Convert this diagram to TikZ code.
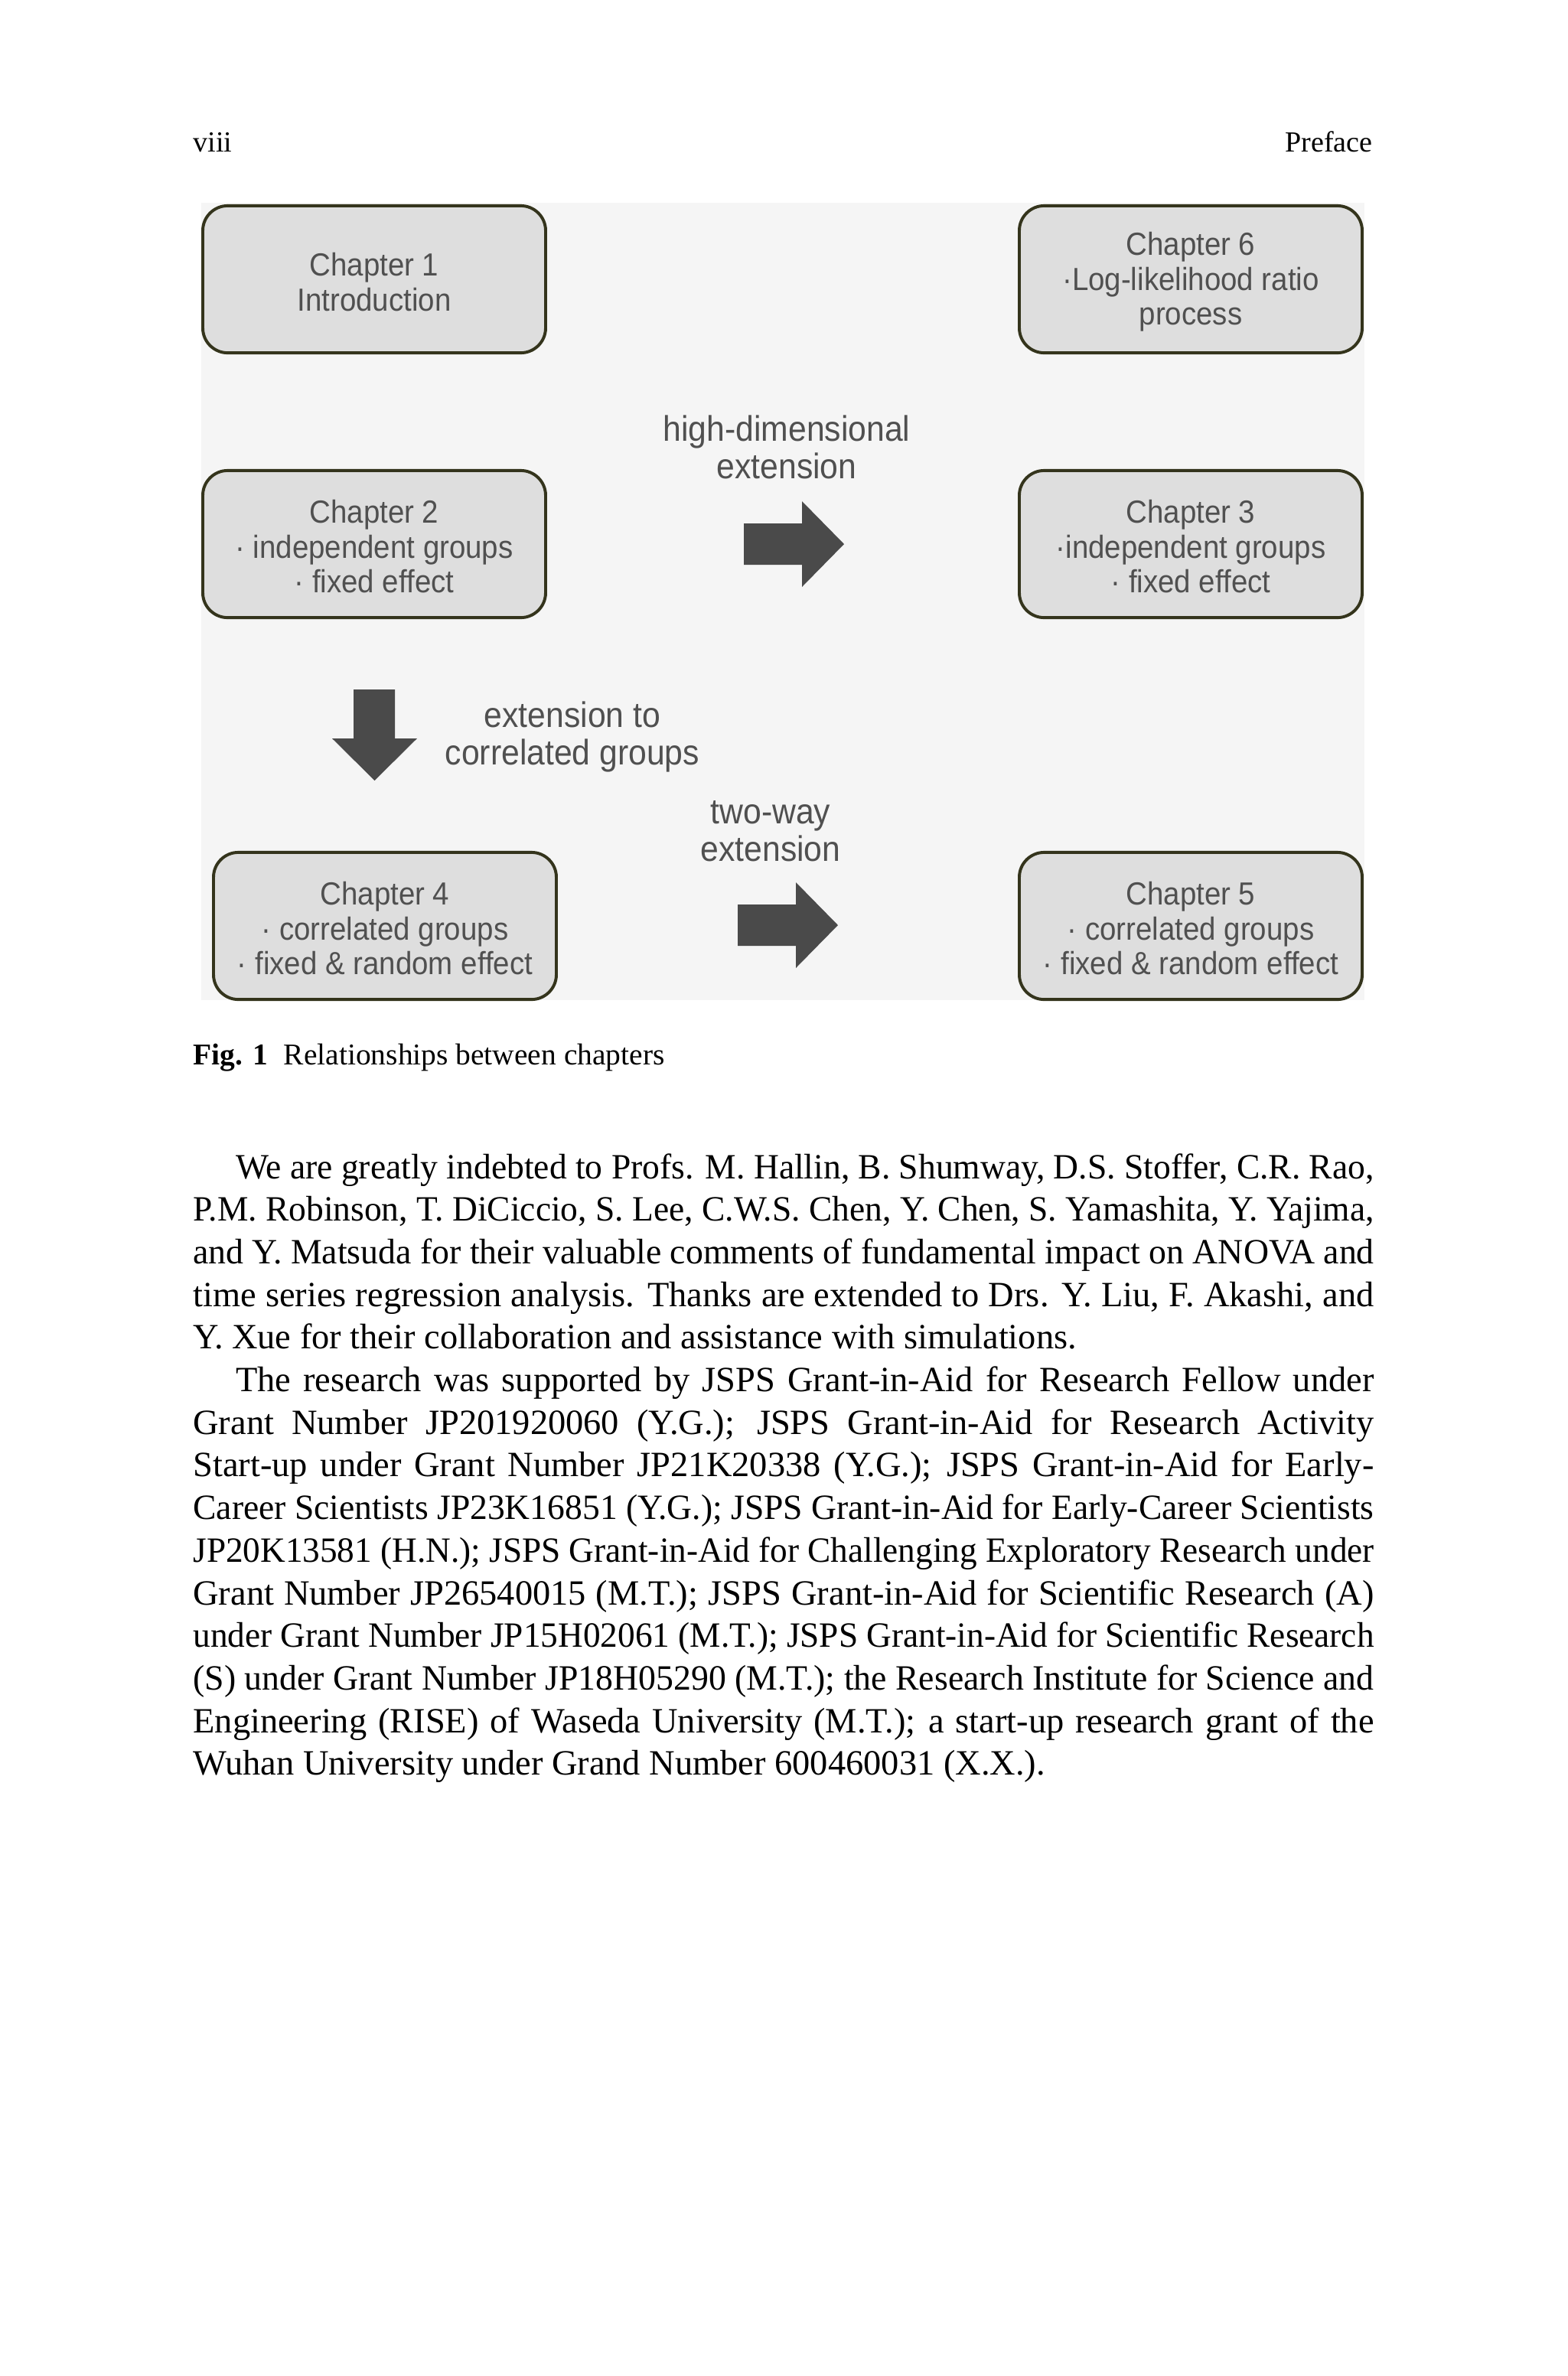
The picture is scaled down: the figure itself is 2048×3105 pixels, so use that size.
\documentclass[tikz,border=0pt]{standalone}
\usepackage{fontspec}
\setmainfont{Liberation Serif}
\newfontfamily\diagfont[FakeStretch=0.92]{Liberation Sans}
\usepackage{graphicx}
\definecolor{bgc}{HTML}{F5F5F5}
\definecolor{boxfill}{HTML}{DEDEDE}
\definecolor{boxline}{HTML}{34341C}
\definecolor{dtext}{HTML}{505050}
\definecolor{arrowc}{HTML}{4A4A4A}
\newlength\natw
\newcommand\jline[2]{\settowidth\natw{#2}\ifdim\natw>#1\relax\resizebox{#1}{\height}{#2}\else\makebox[#1][s]{#2}\fi}
\newcommand\tstrut{\rule{0pt}{8pt}}
\tikzset{
  chbox/.style={draw=boxline, line width=0.85pt, fill=boxfill, rounded corners=7pt,
    minimum width=96.5pt, minimum height=41.4pt, inner sep=0pt, align=center,
    text=dtext, font=\diagfont\fontsize{9}{9.8}\selectfont},
  lbl/.style={inner sep=0pt, align=center, text=dtext,
    font=\diagfont\fontsize{10}{10.6}\selectfont},
  bodyline/.style={inner sep=0pt, anchor=base west, font=\fontsize{10}{12}\selectfont},
  smalltext/.style={inner sep=0pt, anchor=base west, font=\fontsize{8.5}{10}\selectfont},
  blockarrow/.style={fill=arrowc}
}
\begin{document}
\begin{tikzpicture}[x=0.2154pt,y=-0.2154pt]
\useasboundingbox (0,0) rectangle (2048,3105);
\fill[white] (0,0) rectangle (2048,3105);
% running head
\node[inner sep=0pt, anchor=base west, font=\fontsize{8.2}{10}\selectfont] (pagenum) at (251.5,198) {viii};
\node[inner sep=0pt, anchor=base east, font=\fontsize{8.2}{10}\selectfont] (runhead) at (1794.5,198) {Preface};
% figure background
\fill[bgc] (263,265) rectangle (1783,1307);
% chapter boxes
\node[chbox] (c1) at (489,365) {\tstrut Chapter 1\\Introduction};
\node[chbox] (c6) at (1556,365) {\tstrut Chapter 6\\·Log-likelihood ratio\\process};
\node[chbox] (c2) at (489,711) {\tstrut Chapter 2\\· independent groups\\· fixed effect};
\node[chbox] (c3) at (1556,711) {\tstrut Chapter 3\\·independent groups\\· fixed effect};
\node[chbox] (c4) at (503,1210) {\tstrut Chapter 4\\· correlated groups\\· fixed \& random effect};
\node[chbox] (c5) at (1556,1210) {\tstrut Chapter 5\\· correlated groups\\· fixed \& random effect};
% labels
\node[lbl] (lhd) at (1028,584) {high-dimensional\\extension};
\node[lbl] (lec) at (748,963) {extension to\\correlated groups};
\node[lbl] (ltw) at (1007,1086) {two-way\\extension};
% block arrows
\fill[blockarrow] (972,684) -- (1048,684) -- (1048,655) -- (1103,711) -- (1048,767) -- (1048,738) -- (972,738) -- cycle;
\fill[blockarrow] (964,1182) -- (1040,1182) -- (1040,1153) -- (1095,1209) -- (1040,1265) -- (1040,1236) -- (964,1236) -- cycle;
\fill[blockarrow] (462,901) -- (516,901) -- (516,965) -- (545,965) -- (489.5,1020) -- (434,965) -- (462,965) -- cycle;
% caption
\node[smalltext] (figlab) at (251.5,1391) {\textbf{Fig. 1}};
\node[smalltext] (figcap) at (370,1391) {Relationships between chapters};
% body text
\node[bodyline] (b1) at (307.2,1540) {\jline{320.4pt}{We are greatly indebted to Profs. M. Hallin, B. Shumway, D.S. Stoffer, C.R. Rao,}};
\node[bodyline] (b2) at (251.5,1595.7) {\jline{332.4pt}{P.M. Robinson, T. DiCiccio, S. Lee, C.W.S. Chen, Y. Chen, S. Yamashita, Y. Yajima,}};
\node[bodyline] (b3) at (251.5,1651.4) {\jline{332.4pt}{and Y. Matsuda for their valuable comments of fundamental impact on ANOVA and}};
\node[bodyline] (b4) at (251.5,1707.1) {\jline{332.4pt}{time series regression analysis. Thanks are extended to Drs. Y. Liu, F. Akashi, and}};
\node[bodyline] (b5) at (251.5,1762.8) {Y. Xue for their collaboration and assistance with simulations.};
\node[bodyline] (b6) at (307.2,1818.5) {\jline{320.4pt}{The research was supported by JSPS Grant-in-Aid for Research Fellow under}};
\node[bodyline] (b7) at (251.5,1874.2) {\jline{332.4pt}{Grant Number JP201920060 (Y.G.); JSPS Grant-in-Aid for Research Activity}};
\node[bodyline] (b8) at (251.5,1929.9) {\jline{332.4pt}{Start-up under Grant Number JP21K20338 (Y.G.); JSPS Grant-in-Aid for Early-}};
\node[bodyline] (b9) at (251.5,1985.6) {\jline{332.4pt}{Career Scientists JP23K16851 (Y.G.); JSPS Grant-in-Aid for Early-Career Scientists}};
\node[bodyline] (b10) at (251.5,2041.3) {\jline{332.4pt}{JP20K13581 (H.N.); JSPS Grant-in-Aid for Challenging Exploratory Research under}};
\node[bodyline] (b11) at (251.5,2097.0) {\jline{332.4pt}{Grant Number JP26540015 (M.T.); JSPS Grant-in-Aid for Scientific Research (A)}};
\node[bodyline] (b12) at (251.5,2152.7) {\jline{332.4pt}{under Grant Number JP15H02061 (M.T.); JSPS Grant-in-Aid for Scientific Research}};
\node[bodyline] (b13) at (251.5,2208.4) {\jline{332.4pt}{(S) under Grant Number JP18H05290 (M.T.); the Research Institute for Science and}};
\node[bodyline] (b14) at (251.5,2264.1) {\jline{332.4pt}{Engineering (RISE) of Waseda University (M.T.); a start-up research grant of the}};
\node[bodyline] (b15) at (251.5,2319.8) {Wuhan University under Grand Number 600460031 (X.X.).};
\end{tikzpicture}
\end{document}
